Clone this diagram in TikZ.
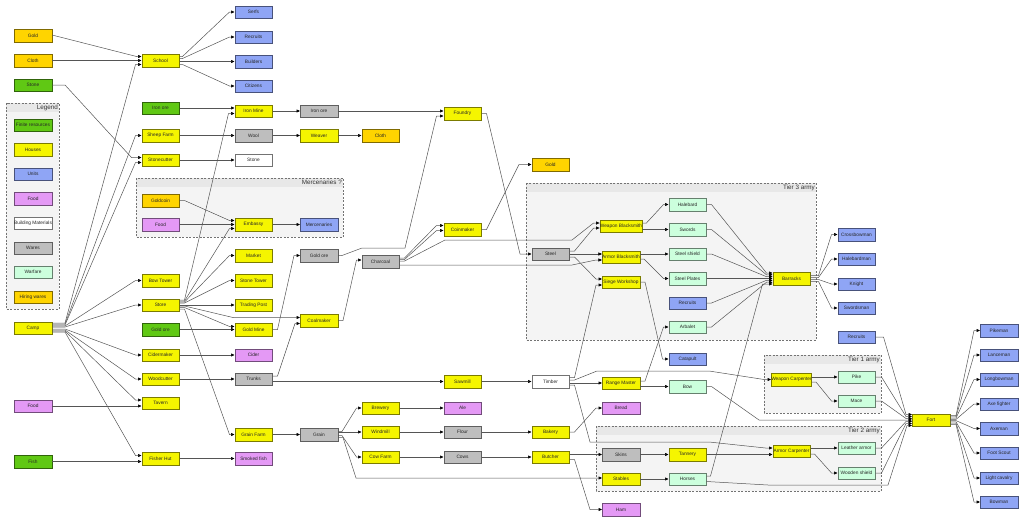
\documentclass[tikz,border=0pt]{standalone}
\usepackage{fontspec}
\setmainfont{Liberation Sans}
\usetikzlibrary{arrows.meta,calc}
\definecolor{cfin}{RGB}{96,200,20}
\definecolor{chouse}{RGB}{245,245,0}
\definecolor{cunit}{RGB}{143,165,245}
\definecolor{cfood}{RGB}{228,153,245}
\definecolor{cbuild}{RGB}{255,255,255}
\definecolor{cware}{RGB}{190,190,190}
\definecolor{cwarf}{RGB}{204,255,221}
\definecolor{chire}{RGB}{255,212,0}
\definecolor{cgrp}{RGB}{244,244,244}
\definecolor{cgrphead}{RGB}{232,232,232}
\definecolor{cedge}{RGB}{85,85,85}
\newcommand\edgeto[6]{\draw[ar] ($(#2.east)+(0,#3)$) -- ++(#1,0) -- ($(#4.west)+(-#6,#5)$) -- ($(#4.west)+(0,#5)$);}
\tikzset{
 nd/.style={draw=#1!50!black, fill=#1, line width=0.5pt, minimum width=37.5pt, minimum height=12.5pt, inner sep=0pt, font=\fontsize{4.8}{5}\selectfont, text=black!85},
 fin/.style={nd=cfin}, house/.style={nd=chouse}, unit/.style={nd=cunit}, food/.style={nd=cfood},
 build/.style={nd=cbuild, draw=black!55}, ware/.style={nd=cware}, warf/.style={nd=cwarf}, hire/.style={nd=chire},
 ar/.style={draw=cedge, line width=0.5pt, -{Triangle[length=3.5pt,width=3pt,color=black]}},
 grpline/.style={draw=black!55, line width=0.5pt, dash pattern=on 2pt off 1.5pt},
 grptitle/.style={font=\fontsize{6.3}{7}\selectfont, text=black!80, inner sep=0.5pt, anchor=north east}
}
\begin{document}
\begin{tikzpicture}[x=1pt,y=-1pt]
\useasboundingbox (0,0) rectangle (1024,522);
% groups
\fill[cgrp] (6,103) rectangle (59,309);
\fill[cgrphead] (6,103) rectangle (59,112);
\draw[grpline] (6,103) rectangle (59,309);
\node[grptitle] (tLegend) at (58.5,103.8) {Legend};
\fill[cgrp] (136,178) rectangle (343,237);
\fill[cgrphead] (136,178) rectangle (343,187);
\draw[grpline] (136,178) rectangle (343,237);
\node[grptitle] (tMerc) at (342.5,178.8) {Mercenaries ?};
\fill[cgrp] (526,183) rectangle (816,340);
\fill[cgrphead] (526,183) rectangle (816,192);
\draw[grpline] (526,183) rectangle (816,340);
\node[grptitle] (tTier3) at (815.5,183.8) {Tier 3 army};
\fill[cgrp] (764,355) rectangle (881,413);
\fill[cgrphead] (764,355) rectangle (881,364);
\draw[grpline] (764,355) rectangle (881,413);
\node[grptitle] (tTier1) at (880.5,355.8) {Tier 1 army};
\fill[cgrp] (596,426) rectangle (881,491);
\fill[cgrphead] (596,426) rectangle (881,435);
\draw[grpline] (596,426) rectangle (881,491);
\node[grptitle] (tTier2) at (880.5,426.8) {Tier 2 army};
% column 1
\node[hire] (goldA) at (33,35.5) {Gold};
\node[hire] (clothA) at (33,60.5) {Cloth};
\node[fin] (stoneA) at (33,85) {Stone};
\node[fin] (lgFin) at (33,125) {Finite resources};
\node[house] (lgHouse) at (33,149.5) {Houses};
\node[unit] (lgUnit) at (33,174) {Units};
\node[food] (lgFood) at (33,198.5) {Food};
\node[build] (lgBuild) at (33,223) {Building Materials};
\node[ware] (lgWare) at (33,248) {Wares};
\node[warf] (lgWarf) at (33,272) {Warfare};
\node[hire] (lgHire) at (33,297) {Hiring wares};
\node[house] (camp) at (33,328) {Camp};
\node[food] (foodA) at (33,406) {Food};
\node[fin] (fish) at (33,461.5) {Fish};
% column 2
\node[house] (school) at (160.5,60.5) {School};
\node[fin] (ironoreA) at (160.5,108) {Iron ore};
\node[house] (sheep) at (160.5,135.5) {Sheep Farm};
\node[house] (stonecutter) at (160.5,160) {Stonecutter};
\node[hire] (goldcoin) at (160.5,200.5) {Goldcoin};
\node[food] (foodB) at (160.5,224.5) {Food};
\node[house] (bowtower) at (160.5,280.5) {Bow Tower};
\node[house] (store) at (160.5,305) {Store};
\node[fin] (goldoreA) at (160.5,329.5) {Gold ore};
\node[house] (ciderm) at (160.5,355) {Cidermaker};
\node[house] (woodcutter) at (160.5,379) {Woodcutter};
\node[house] (tavern) at (160.5,403) {Tavern};
\node[house] (fisher) at (160.5,458.5) {Fisher Hut};
% column 3
\node[unit] (serfs) at (253.5,12) {Serfs};
\node[unit] (recruitsA) at (253.5,37) {Recruits};
\node[unit] (builders) at (253.5,61.5) {Builders};
\node[unit] (citizens) at (253.5,86) {Citizens};
\node[house] (ironmine) at (253.5,111) {Iron Mine};
\node[ware] (wool) at (253.5,135.5) {Wool};
\node[build] (stoneB) at (253.5,160) {Stone};
\node[house] (embassy) at (253.5,224.5) {Embassy};
\node[house] (market) at (253.5,255.5) {Market};
\node[house] (stonetower) at (253.5,280.5) {Stone Tower};
\node[house] (tradingpost) at (253.5,305) {Trading Post};
\node[house] (goldmine) at (253.5,329.5) {Gold Mine};
\node[food] (cider) at (253.5,355) {Cider};
\node[ware] (trunks) at (253.5,379) {Trunks};
\node[house] (grainfarm) at (253.5,434.5) {Grain Farm};
\node[food] (smokedfish) at (253.5,458.5) {Smoked fish};
% column 4
\node[ware] (ironoreB) at (319,111) {Iron ore};
\node[house] (weaver) at (319,135.5) {Weaver};
\node[unit] (mercs) at (319,224.5) {Mercenaries};
\node[ware] (goldoreB) at (319,255.5) {Gold ore};
\node[house] (coalmaker) at (319,320.5) {Coalmaker};
\node[ware] (grain) at (319,434.5) {Grain};
% column 5
\node[hire] (clothB) at (380.5,135.5) {Cloth};
\node[ware] (charcoal) at (380.5,261.5) {Charcoal};
\node[house] (brewery) at (380.5,408) {Brewery};
\node[house] (windmill) at (380.5,432) {Windmill};
\node[house] (cowfarm) at (380.5,457) {Cow Farm};
% column 6
\node[house] (foundry) at (462.5,113.5) {Foundry};
\node[house] (coinmaker) at (462.5,229.5) {Coinmaker};
\node[house] (sawmill) at (462.5,381.5) {Sawmill};
\node[food] (ale) at (462.5,408) {Ale};
\node[ware] (flour) at (462.5,432) {Flour};
\node[ware] (cows) at (462.5,457) {Cows};
% column 7
\node[hire] (goldB) at (550.5,164.5) {Gold};
\node[ware] (steel) at (550.5,254) {Steel};
\node[build] (timber) at (550.5,381.5) {Timber};
\node[house] (bakery) at (550.5,432) {Bakery};
\node[house] (butcher) at (550.5,457) {Butcher};
% column 8
\node[house] (wblack) at (621,226) {Weapon Blacksmith};
\node[house] (ablack) at (621,257) {Armor Blacksmith};
\node[house] (siege) at (621,282) {Siege Workshop};
\node[house] (range) at (621,383) {Range Master};
\node[food] (bread) at (621,408) {Bread};
\node[ware] (skins) at (621,454.5) {Skins};
\node[house] (stables) at (621,479) {Stables};
\node[food] (ham) at (621,509.5) {Ham};
% column 9
\node[warf] (halebard) at (687.5,204.5) {Halebard};
\node[warf] (swords) at (687.5,229.5) {Swords};
\node[warf] (steelshield) at (687.5,254) {Steel shield};
\node[warf] (steelplates) at (687.5,278.5) {Steel Plates};
\node[unit] (recruitsB) at (687.5,303) {Recruits};
\node[warf] (arbalet) at (687.5,327) {Arbalet};
\node[unit] (catapult) at (687.5,359) {Catapult};
\node[warf] (bow) at (687.5,386.5) {Bow};
\node[house] (tannery) at (687.5,454.5) {Tannery};
\node[warf] (horses) at (687.5,479) {Horses};
% column 10
\node[house] (barracks) at (791.5,278.5) {Barracks};
\node[house] (wcarp) at (791.5,379.5) {Weapon Carpenter};
\node[house] (acarp) at (791.5,451) {Armor Carpenter};
% column 11
\node[unit] (crossbow) at (856.5,234.5) {Crossbowman};
\node[unit] (halebardman) at (856.5,259) {Halebardman};
\node[unit] (knight) at (856.5,284) {Knight};
\node[unit] (swordsman) at (856.5,308) {Swordsman};
\node[unit] (recruitsC) at (856.5,337) {Recruits};
\node[warf] (pike) at (856.5,377) {Pike};
\node[warf] (mace) at (856.5,401) {Mace};
\node[warf] (leather) at (856.5,448) {Leather armor};
\node[warf] (wshield) at (856.5,473) {Wooden shield};
\node[house] (fort) at (931,420) {Fort};
% column 12
\node[unit] (pikeman) at (999,330.5) {Pikeman};
\node[unit] (lanceman) at (999,355) {Lanceman};
\node[unit] (longbow) at (999,379.5) {Longbowman};
\node[unit] (axefighter) at (999,404) {Axe fighter};
\node[unit] (axeman) at (999,428.5) {Axeman};
\node[unit] (footscout) at (999,453) {Foot Scout};
\node[unit] (lightcav) at (999,478) {Light cavalry};
\node[unit] (bowman) at (999,502) {Bowman};
% ---------- edges
\edgeto{13}{camp}{-5}{school}{4}{6}
\edgeto{13}{camp}{-4}{sheep}{0}{6}
\edgeto{13}{camp}{-3}{stonecutter}{2.5}{6}
\edgeto{13}{camp}{-2}{bowtower}{0}{6}
\edgeto{13}{camp}{-1}{store}{0}{6}
\edgeto{13}{camp}{1}{ciderm}{0}{6}
\edgeto{13}{camp}{2}{woodcutter}{0}{6}
\edgeto{13}{camp}{3}{tavern}{-3}{6}
\edgeto{13}{camp}{4}{fisher}{-3}{6}
\draw[ar] (foodA.east) -- ($(tavern.west)+(0,3)$);
\draw[ar] (fish.east) -- ($(fisher.west)+(0,3)$);
\edgeto{2}{goldA}{0}{school}{-4}{5}
\draw[ar] (clothA.east) -- (school.west);
\edgeto{13}{stoneA}{0}{stonecutter}{-2.5}{10}
\edgeto{3}{school}{-4}{serfs}{0}{5}
\edgeto{3}{school}{-2}{recruitsA}{0}{5}
\draw[ar] ($(school.east)+(0,1)$) -- (builders.west);
\edgeto{3}{school}{4}{citizens}{0}{5}
\draw[ar] (ironoreA.east) -- ($(ironmine.west)+(0,-3)$);
\edgeto{5}{store}{-5}{ironmine}{2.5}{6}
\draw[ar] (sheep.east) -- (wool.west);
\draw[ar] (wool.east) -- (weaver.west);
\draw[ar] (weaver.east) -- (clothB.west);
\draw[ar] (stonecutter.east) -- (stoneB.west);
\draw[ar] (ironmine.east) -- (ironoreB.west);
\draw[ar] (ironoreB.east) -- ($(foundry.west)+(0,-2.5)$);
\draw[ar] (goldoreB.east) -- ++(4,0) -- (362,248) -- (405,248) -- ($(foundry.west)+(-7,2.5)$) -- ($(foundry.west)+(0,2.5)$);
\edgeto{5}{charcoal}{-3.5}{coinmaker}{-4}{7}
\edgeto{5}{charcoal}{-2}{coinmaker}{1}{7}
\draw[ar] ($(charcoal.east)+(0,-0.5)$) -- ++(5,0) -- (445,240) -- (572,240) -- ($(wblack.west)+(-6,-3)$) -- ($(wblack.west)+(0,-3)$);
\draw[ar] ($(charcoal.east)+(0,3.5)$) -- (572,265) -- ($(ablack.west)+(-6,3)$) -- ($(ablack.west)+(0,3)$);
\draw[ar] (foundry.east) -- ++(5,0) -- (520,254) -- (steel.west);
\draw[ar] (coinmaker.east) -- ++(5,0) -- (519,164.5) -- (goldB.west);
\edgeto{5}{steel}{-3}{wblack}{2}{6}
\draw[ar] (steel.east) -- ($(ablack.west)+(0,-3)$);
\edgeto{5}{steel}{3}{siege}{-3}{6}
\edgeto{5}{timber}{-4}{siege}{3}{6}
\edgeto{4}{wblack}{-3}{halebard}{0}{5}
\draw[ar] ($(wblack.east)+(0,3.5)$) -- (swords.west);
\draw[ar] ($(ablack.east)+(0,-3)$) -- (steelshield.west);
\edgeto{4}{ablack}{2}{steelplates}{0}{5}
\edgeto{5}{siege}{0}{catapult}{0}{6}
\edgeto{5}{range}{-2}{arbalet}{0}{5}
\draw[ar] ($(range.east)+(0,3.5)$) -- (bow.west);
\draw[ar] ($(timber.east)+(0,1.5)$) -- (range.west);
\draw[ar] ($(timber.east)+(0,-1.5)$) -- ++(5,0) -- (597,371) -- (709,371) -- ($(wcarp.west)+(-7,0)$) -- (wcarp.west);
\draw[ar] ($(timber.east)+(0,3.5)$) -- ++(5,0) -- (590,442) -- (709,442) -- ($(acarp.west)+(-7,-3)$) -- ($(acarp.west)+(0,-3)$);
\draw[ar] (tannery.east) -- ($(acarp.west)+(0,3.5)$);
\draw[ar] ($(wcarp.east)+(0,-2.5)$) -- (pike.west);
\edgeto{4}{wcarp}{2.5}{mace}{0}{6}
\draw[ar] ($(acarp.east)+(0,-3)$) -- (leather.west);
\edgeto{4}{acarp}{3}{wshield}{0}{6}
\edgeto{5}{halebard}{0}{barracks}{-5.5}{6}
\edgeto{5}{swords}{0}{barracks}{-3.7}{6}
\edgeto{5}{steelshield}{0}{barracks}{-1.8}{6}
\draw[ar] (steelplates.east) -- (barracks.west);
\edgeto{5}{recruitsB}{0}{barracks}{1.8}{6}
\edgeto{5}{arbalet}{0}{barracks}{3.7}{6}
\edgeto{4}{horses}{-3}{barracks}{5.5}{10}
\edgeto{8}{barracks}{-3}{crossbow}{0}{6}
\edgeto{8}{barracks}{-1}{halebardman}{0}{6}
\edgeto{8}{barracks}{1}{knight}{0}{6}
\edgeto{8}{barracks}{3}{swordsman}{0}{6}
\edgeto{8}{recruitsC}{0}{fort}{-5.5}{6}
\edgeto{6}{pike}{0}{fort}{-3.5}{6}
\edgeto{6}{mace}{0}{fort}{-1.5}{6}
\draw[ar] (bow.east) -- ++(5,0) -- (759,420) -- (fort.west);
\edgeto{6}{leather}{0}{fort}{1.5}{6}
\edgeto{6}{wshield}{0}{fort}{3.5}{6}
\draw[ar] ($(horses.east)+(0,2.5)$) -- (768,485) -- (888,485) -- ($(fort.west)+(-5,5.5)$) -- ($(fort.west)+(0,5.5)$);
\edgeto{6}{fort}{-4.5}{pikeman}{0}{6}
\edgeto{6}{fort}{-3.2}{lanceman}{0}{6}
\edgeto{6}{fort}{-1.9}{longbow}{0}{6}
\edgeto{6}{fort}{-0.6}{axefighter}{0}{6}
\edgeto{6}{fort}{0.6}{axeman}{0}{6}
\edgeto{6}{fort}{1.9}{footscout}{0}{6}
\edgeto{6}{fort}{3.2}{lightcav}{0}{6}
\edgeto{6}{fort}{4.5}{bowman}{0}{6}
\edgeto{5}{goldmine}{0}{goldoreB}{0}{6}
\draw[ar] ($(store.east)+(0,1)$) -- ++(5,0) -- (233,317.5) -- ($(coalmaker.west)+(0,-3)$);
\edgeto{5}{trunks}{-3}{coalmaker}{3}{5}
\edgeto{5}{coalmaker}{0}{charcoal}{-1.5}{5}
\edgeto{5}{store}{2.5}{goldmine}{-3}{5}
\draw[ar] (goldoreA.east) -- (goldmine.west);
\edgeto{5}{store}{-4}{embassy}{4}{5}
\edgeto{5}{goldcoin}{0}{embassy}{-4}{5}
\draw[ar] (foodB.east) -- (embassy.west);
\draw[ar] (embassy.east) -- (mercs.west);
\edgeto{5}{store}{-3}{market}{0}{5}
\edgeto{5}{store}{-2}{stonetower}{0}{5}
\draw[ar] (store.east) -- (tradingpost.west);
\edgeto{5}{store}{4}{grainfarm}{0}{5}
\draw[ar] (ciderm.east) -- (cider.west);
\draw[ar] (woodcutter.east) -- (trunks.west);
\draw[ar] ($(trunks.east)+(0,2.5)$) -- (sawmill.west);
\draw[ar] (sawmill.east) -- (timber.west);
\draw[ar] (fisher.east) -- (smokedfish.west);
\draw[ar] (grainfarm.east) -- (grain.west);
\edgeto{4}{grain}{-3}{brewery}{0}{5}
\draw[ar] ($(grain.east)+(0,-2.5)$) -- (windmill.west);
\edgeto{4}{grain}{1}{cowfarm}{0}{5}
\draw[ar] ($(grain.east)+(0,3)$) -- ++(5,0) -- (356,478) -- ($(stables.west)+(0,-1)$);
\draw[ar] (brewery.east) -- (ale.west);
\draw[ar] (windmill.east) -- (flour.west);
\draw[ar] (cowfarm.east) -- (cows.west);
\draw[ar] (flour.east) -- (bakery.west);
\draw[ar] (cows.east) -- (butcher.west);
\edgeto{5}{bakery}{0}{bread}{0}{6}
\draw[ar] ($(butcher.east)+(0,-2.5)$) -- (skins.west);
\edgeto{5}{butcher}{2.5}{ham}{0}{12}
\draw[ar] (skins.east) -- (tannery.west);
\draw[ar] (stables.east) -- (horses.west);
\end{tikzpicture}
\end{document}
